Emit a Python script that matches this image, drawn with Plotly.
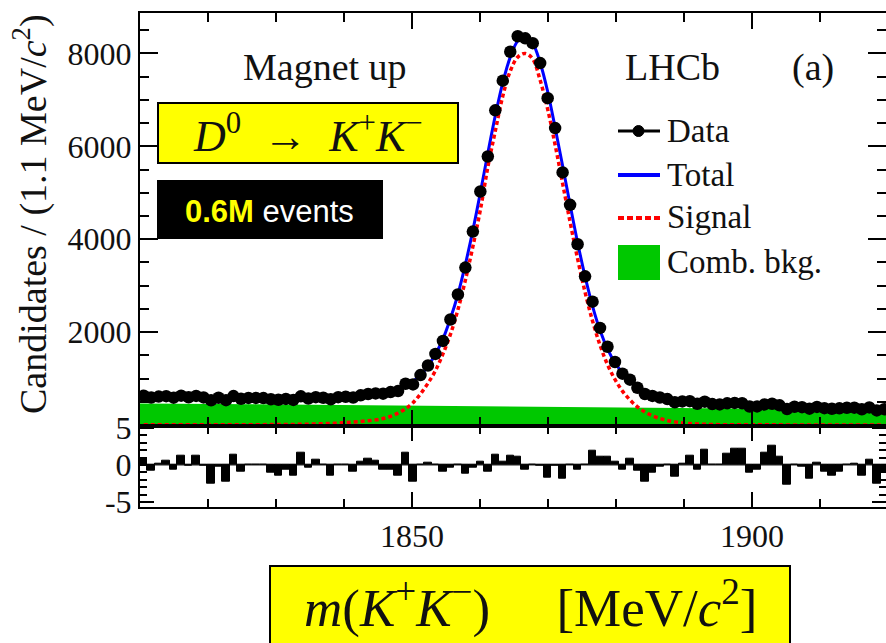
import plotly.graph_objects as go

# ---------------- data ----------------
bin_low = 1810.0
bin_width = 1.1
n_bins = 100
centers = [round(bin_low + bin_width * (i + 0.5), 3) for i in range(n_bins)]

data_counts = [
    632, 591, 612, 621, 589, 631, 598, 627, 594, 533,
    587, 534, 622, 564, 584, 583, 580, 554, 543, 562,
    540, 618, 569, 599, 586, 555, 600, 608, 593, 638,
    668, 680, 674, 709, 731, 889, 874, 1075, 1281, 1530,
    1811, 2271, 2810, 3389, 4164, 5028, 5781, 6774, 7413, 8036,
    8370, 8325, 8220, 7791, 7036, 6392, 5438, 4740, 3892, 3200,
    2656, 2090, 1685, 1356, 1105, 976, 802, 668, 627, 593,
    558, 490, 507, 514, 458, 503, 451, 443, 467, 476,
    469, 399, 400, 443, 457, 423, 343, 393, 384, 352,
    390, 363, 349, 358, 372, 374, 340, 379, 314, 341,
]

total_fit = [
    612, 610, 608, 606, 604, 602, 600, 598, 596, 594,
    592, 590, 588, 586, 584, 582, 580, 578, 577, 576,
    576, 577, 579, 582, 586, 591, 598, 606, 615, 628,
    645, 665, 690, 725, 770, 840, 945, 1075, 1270, 1530,
    1850, 2290, 2810, 3460, 4190, 5000, 5850, 6660, 7370, 7920,
    8270, 8380, 8220, 7800, 7180, 6400, 5580, 4740, 3930, 3200,
    2560, 2040, 1640, 1340, 1125, 950, 825, 730, 655, 600,
    558, 527, 503, 485, 471, 460, 451, 443, 436, 430,
    424, 419, 414, 409, 405, 401, 397, 393, 390, 387,
    384, 381, 378, 375, 372, 370, 367, 365, 362, 360,
]

signal_fit = [
    3, 3, 3, 3, 3, 4, 4, 4, 4, 5,
    5, 5, 6, 6, 7, 7, 8, 9, 10, 11,
    13, 15, 18, 22, 27, 33, 41, 51, 63, 77,
    92, 110, 140, 185, 255, 350, 480, 670, 900, 1170,
    1530, 1950, 2480, 3120, 3840, 4630, 5550, 6330, 7080, 7620,
    7920, 8000, 7880, 7420, 6800, 6030, 5200, 4370, 3580, 2860,
    2240, 1720, 1300, 980, 730, 540, 390, 280, 200, 140,
    97, 67, 46, 32, 22, 15, 11, 8, 6, 5,
    4, 4, 3, 3, 3, 3, 2, 2, 2, 2,
    2, 2, 2, 1, 1, 1, 1, 1, 1, 1,
]

bkg_x = [1810, 1920]
bkg_y = [465, 330]

pulls = [
    0.8, -0.75, 0.15, 0.6, -0.6, 1.2, -0.1, 1.2, -0.1, -2.5,
    -0.2, -2.3, 1.4, -0.9, 0.0, 0.05, 0.0, -1.0, -1.4, -0.6,
    -1.5, 1.7, -0.4, 0.7, 0.0, -1.5, 0.1, 0.1, -0.9, 0.4,
    0.9, 0.6, -0.6, -0.6, -1.4, 1.7, -2.3, 0.0, 0.3, 0.0,
    -0.9, -0.4, 0.0, -1.2, -0.4, 0.4, -0.9, 1.4, 0.5, 1.3,
    1.1, -0.6, 0.0, -0.1, -1.7, -0.1, -1.9, 0.0, -0.6, 0.0,
    1.9, 1.1, 1.1, 0.45, -0.6, 0.85, -0.8, -2.3, -1.1, -0.3,
    0.0, -1.6, 0.2, 1.3, -0.6, 2.0, 0.0, 0.0, 1.5, 2.2,
    2.2, -1.0, -0.7, 1.7, 2.6, 1.1, -2.7, 0.0, -0.3, -1.8,
    0.3, -0.9, -1.5, -0.9, 0.0, 0.2, -1.4, 0.75, -2.5, -1.0,
]

x_major = [1850, 1900]
x_minor = [1820, 1830, 1840, 1860, 1870, 1880, 1890, 1910]
y_major = [2000, 4000, 6000, 8000]
y_minor = [500, 1000, 1500, 2500, 3000, 3500, 4500, 5000, 5500,
           6500, 7000, 7500, 8500]
r_major = [-5, 0, 5]
r_minor = [-4, -3, -2, -1, 1, 2, 3, 4]

# ---------------- styling ----------------
W, H = 886, 643
ML, MR, MT, MB = 140, 0, 13, 136
PW, PH = W - ML - MR, H - MT - MB
SPLIT = (507 - 425.7) / PH

GREEN = "rgb(0,200,0)"
SERIF = "Liberation Serif"
SANS = "Liberation Sans"
TXT = "#111111"


def px(x):
    return (x - ML) / PW


def py(y):
    return (MT + PH - y) / PH


fig = go.Figure()

fig.add_trace(go.Scatter(x=bkg_x, y=bkg_y, mode="lines", fill="tozeroy",
                         fillcolor=GREEN, line=dict(width=0, color=GREEN),
                         xaxis="x", yaxis="y", hoverinfo="skip", showlegend=False))
fig.add_trace(go.Scatter(x=centers, y=total_fit, mode="lines",
                         line=dict(color="#0000ff", width=3, shape="spline"),
                         xaxis="x", yaxis="y", hoverinfo="skip", showlegend=False))
fig.add_trace(go.Scatter(x=centers, y=signal_fit, mode="lines",
                         line=dict(color="#ff0000", width=3.5, dash="4px,3px", shape="spline"),
                         xaxis="x", yaxis="y", hoverinfo="skip", showlegend=False))
fig.add_trace(go.Scatter(x=centers, y=data_counts, mode="markers",
                         marker=dict(color="black", size=12.5),
                         error_x=dict(type="constant", value=bin_width / 2, color="black",
                                      thickness=2, width=0),
                         xaxis="x", yaxis="y", hoverinfo="skip", showlegend=False))
fig.add_trace(go.Bar(x=centers, y=pulls, width=bin_width,
                     marker=dict(color="black", line=dict(color="black", width=1)),
                     xaxis="x2", yaxis="y2", hoverinfo="skip", showlegend=False))
# dummy traces to draw the right-hand tick axes
fig.add_trace(go.Scatter(x=[None], y=[None], xaxis="x", yaxis="y3", showlegend=False,
                         hoverinfo="skip"))
fig.add_trace(go.Scatter(x=[None], y=[None], xaxis="x2", yaxis="y4", showlegend=False,
                         hoverinfo="skip"))

tickfont = dict(family=SERIF, size=32, color=TXT)
axcommon = dict(showgrid=False, zeroline=False, linecolor="black", linewidth=2,
                tickcolor="black", tickwidth=2, ticks="inside", automargin=False)
xr = [1810, 1810 + PW / 6.8]

fig.update_layout(
    width=W, height=H,
    margin=dict(l=ML, r=MR, t=MT, b=MB, autoexpand=False),
    paper_bgcolor="white", plot_bgcolor="white",
    showlegend=False, bargap=0,
    xaxis=dict(domain=[0, 1], range=xr, anchor="y", showline=True, mirror="ticks",
               tickvals=x_major, ticklen=16, showticklabels=False,
               minor=dict(tickvals=x_minor, ticklen=9, tickwidth=2, ticks="inside",
                          tickcolor="black"),
               **axcommon),
    yaxis=dict(domain=[SPLIT, 1], range=[-15, 8870], anchor="x", showline=True,
               tickvals=y_major, ticktext=[str(v) for v in y_major], ticklen=18,
               tickfont=tickfont, ticklabelstandoff=0,
               minor=dict(tickvals=y_minor, ticklen=9, tickwidth=2, ticks="inside",
                          tickcolor="black"),
               **axcommon),
    yaxis3=dict(overlaying="y", side="right", anchor="x", range=[-15, 8870],
                showline=False, showticklabels=False, tickvals=y_major, ticklen=18,
                showgrid=False, zeroline=False, ticks="inside", tickcolor="black",
                tickwidth=2, automargin=False,
                minor=dict(tickvals=y_minor, ticklen=9, tickwidth=2, ticks="inside",
                           tickcolor="black")),
    xaxis2=dict(domain=[0, 1], range=xr, anchor="y2", showline=True, mirror="ticks",
                tickvals=x_major, ticktext=[str(v) for v in x_major], ticklen=15,
                tickfont=tickfont, ticklabelstandoff=0,
                minor=dict(tickvals=x_minor, ticklen=8, tickwidth=2, ticks="inside",
                           tickcolor="black"),
                **axcommon),
    yaxis2=dict(domain=[0, SPLIT], range=[-5.68, 5.3], anchor="x2", showline=True,
                tickvals=r_major, ticktext=["-5", "0", "5"], ticklen=14,
                tickfont=tickfont, ticklabelstandoff=0,
                minor=dict(tickvals=r_minor, ticklen=7, tickwidth=2, ticks="inside",
                           tickcolor="black"),
                **axcommon),
    yaxis4=dict(overlaying="y2", side="right", anchor="x2", range=[-5.68, 5.3],
                showline=False, showticklabels=False, tickvals=r_major, ticklen=14,
                showgrid=False, zeroline=False, ticks="inside", tickcolor="black",
                tickwidth=2, automargin=False,
                minor=dict(tickvals=r_minor, ticklen=7, tickwidth=2, ticks="inside",
                           tickcolor="black")),
)

shapes = []
# residual zero line
shapes.append(dict(type="line", xref="x2", yref="y2", x0=xr[0], x1=xr[1], y0=0, y1=0,
                   line=dict(color="black", width=1), layer="above"))
# D0 box
shapes.append(dict(type="rect", xref="paper", yref="paper",
                   x0=px(158), x1=px(458), y0=py(163), y1=py(103),
                   fillcolor="#ffff00", line=dict(color="black", width=2)))
# black events box
shapes.append(dict(type="rect", xref="paper", yref="paper",
                   x0=px(157), x1=px(383), y0=py(239), y1=py(180),
                   fillcolor="black", line=dict(color="black", width=0)))
# x-title box
shapes.append(dict(type="rect", xref="paper", yref="paper",
                   x0=px(270), x1=px(790), y0=py(650), y1=py(566),
                   fillcolor="#ffff00", line=dict(color="black", width=2)))
# legend symbols
shapes.append(dict(type="line", xref="paper", yref="paper",
                   x0=px(618), x1=px(660), y0=py(131), y1=py(131),
                   line=dict(color="black", width=3)))
shapes.append(dict(type="circle", xref="paper", yref="paper",
                   x0=px(633), x1=px(644), y0=py(136.5), y1=py(125.5),
                   fillcolor="black", line=dict(color="black", width=1)))
shapes.append(dict(type="line", xref="paper", yref="paper",
                   x0=px(618), x1=px(660), y0=py(175), y1=py(175),
                   line=dict(color="#0000ff", width=4)))
shapes.append(dict(type="line", xref="paper", yref="paper",
                   x0=px(618), x1=px(660), y0=py(218), y1=py(218),
                   line=dict(color="#ff0000", width=4, dash="6px,3px")))
shapes.append(dict(type="rect", xref="paper", yref="paper",
                   x0=px(618), x1=px(660), y0=py(280), y1=py(245),
                   fillcolor=GREEN, line=dict(width=0)))
fig.update_layout(shapes=shapes)

ann = []


def text(x, y, s, size, family=SERIF, color=TXT, xanchor="center", angle=0):
    ann.append(dict(x=px(x), y=py(y), xref="paper", yref="paper", text=s,
                    showarrow=False, xanchor=xanchor, yanchor="middle",
                    textangle=angle,
                    font=dict(family=family, size=size, color=color)))


text(30, 214, "Candidates / (1.1 MeV/<i>c</i><sup>2</sup>)", 38, angle=-90)
text(325, 67, "Magnet up", 38)
text(672, 67, "LHCb", 38)
text(813, 67, "(a)", 38)
text(665, 131, "Data", 33, xanchor="left")
text(665, 175, "Total", 33, xanchor="left")
text(665, 217, "Signal", 33, xanchor="left")
text(665, 262, "Comb. bkg.", 33, xanchor="left")
text(308, 133,
     "<i>D</i><sup>0</sup>&nbsp;&nbsp;→&nbsp;&nbsp;<i>K</i><sup>+</sup><i>K</i><sup>−</sup>",
     44)
text(269, 211, "<b><span style='color:#ffff00'>0.6M</span></b> events", 31,
     family=SANS, color="white")
text(530, 604,
     "<i>m</i>(<i>K</i><sup>+</sup><i>K</i><sup>−</sup>)&nbsp;&nbsp;&nbsp;&nbsp;&nbsp;[MeV/<i>c</i><sup>2</sup>]",
     53)
fig.update_layout(annotations=ann)

fig.write_html("out.html")
